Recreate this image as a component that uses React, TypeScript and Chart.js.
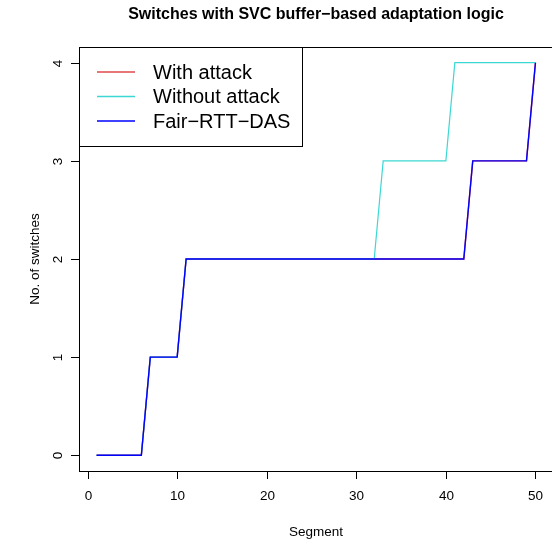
import React, { useEffect, useRef } from "react";
import { Chart, registerables } from "chart.js";

Chart.register(...registerables);

const segments = [
  1, 2, 3, 4, 5, 6, 7, 8, 9, 10, 11, 12, 13, 14, 15, 16, 17, 18, 19, 20, 21, 22, 23, 24, 25,
  26, 27, 28, 29, 30, 31, 32, 33, 34, 35, 36, 37, 38, 39, 40, 41, 42, 43, 44, 45, 46, 47, 48, 49, 50,
];
const withAttack = [
  0, 0, 0, 0, 0, 0, 1, 1, 1, 1, 2, 2, 2, 2, 2, 2, 2, 2, 2, 2, 2, 2, 2, 2, 2,
  2, 2, 2, 2, 2, 2, 2, 2, 2, 2, 2, 2, 2, 2, 2, 2, 2, 3, 3, 3, 3, 3, 3, 3, 4,
];
const withoutAttack = [
  0, 0, 0, 0, 0, 0, 1, 1, 1, 1, 2, 2, 2, 2, 2, 2, 2, 2, 2, 2, 2, 2, 2, 2, 2,
  2, 2, 2, 2, 2, 2, 2, 3, 3, 3, 3, 3, 3, 3, 3, 4, 4, 4, 4, 4, 4, 4, 4, 4, 4,
];
const fairRttDas = [
  0, 0, 0, 0, 0, 0, 1, 1, 1, 1, 2, 2, 2, 2, 2, 2, 2, 2, 2, 2, 2, 2, 2, 2, 2,
  2, 2, 2, 2, 2, 2, 2, 2, 2, 2, 2, 2, 2, 2, 2, 2, 2, 3, 3, 3, 3, 3, 3, 3, 4,
];
const seriesLabels = ["With attack", "Without attack", "Fair\u2212RTT\u2212DAS"];
const seriesColors = ["#E04848", "#3CD8D4", "#0000FF"];
const xTicks = [0, 10, 20, 30, 40, 50];
const yTicks = [0, 1, 2, 3, 4];
const titleText = "Switches with SVC buffer\u2212based adaptation logic";
const xTitle = "Segment";
const yTitle = "No. of switches";

const FONT = '"Liberation Sans", Arial, Helvetica, sans-serif';

const rPlot = {
  id: "rPlot",
  afterDraw(chart: any) {
    const ctx = chart.ctx as CanvasRenderingContext2D;
    const a = chart.chartArea;
    const xs = chart.scales.x;
    const ys = chart.scales.y;
    ctx.save();
    ctx.strokeStyle = "#000";
    ctx.fillStyle = "#000";
    ctx.lineWidth = 1;
    // box
    ctx.strokeRect(a.left + 0.5, a.top + 0.5, a.right - a.left, a.bottom - a.top);
    // x ticks
    ctx.font = "13.5px " + FONT;
    ctx.textAlign = "center";
    ctx.textBaseline = "alphabetic";
    for (const t of xTicks) {
      const px = Math.round(xs.getPixelForValue(t)) + 0.5;
      ctx.beginPath();
      ctx.moveTo(px, a.bottom);
      ctx.lineTo(px, a.bottom + 8);
      ctx.stroke();
      ctx.fillText(String(t), px, 500);
    }
    // y ticks
    for (const t of yTicks) {
      const py = Math.round(ys.getPixelForValue(t)) + 0.5;
      ctx.beginPath();
      ctx.moveTo(a.left, py);
      ctx.lineTo(a.left - 8, py);
      ctx.stroke();
      ctx.save();
      ctx.translate(62, py);
      ctx.rotate(-Math.PI / 2);
      ctx.textAlign = "center";
      ctx.textBaseline = "alphabetic";
      ctx.fillText(String(t), 0, 0);
      ctx.restore();
    }
    // axis titles
    ctx.textAlign = "center";
    ctx.fillText(xTitle, (a.left + a.right) / 2, 536);
    ctx.save();
    ctx.translate(39, (a.top + a.bottom) / 2);
    ctx.rotate(-Math.PI / 2);
    ctx.fillText(yTitle, 0, 0);
    ctx.restore();
    // main title
    ctx.font = "bold 16px " + FONT;
    ctx.fillText(titleText, (a.left + a.right) / 2, 18.5);
    // legend
    const lx = a.left;
    const ly = a.top;
    const lw = 223;
    const lh = 99;
    ctx.fillStyle = "#fff";
    ctx.fillRect(lx, ly, lw, lh);
    ctx.strokeStyle = "#000";
    ctx.strokeRect(lx + 0.5, ly + 0.5, lw, lh);
    ctx.font = "20px " + FONT;
    ctx.textAlign = "left";
    ctx.textBaseline = "middle";
    const rows = [72, 96.5, 121];
    chart.data.datasets.forEach((ds: any, i: number) => {
      ctx.strokeStyle = ds.borderColor;
      ctx.lineWidth = 1.3;
      ctx.beginPath();
      ctx.moveTo(97, rows[i]);
      ctx.lineTo(135, rows[i]);
      ctx.stroke();
      ctx.fillStyle = "#000";
      ctx.fillText(ds.label, 153, rows[i] + 1);
    });
    ctx.restore();
  },
};

export default function App() {
  const ref = useRef<HTMLCanvasElement | null>(null);
  useEffect(() => {
    if (!ref.current) return;
    const mk = (vals: number[]) => segments.map((s, i) => ({ x: s, y: vals[i] }));
    const chart = new Chart(ref.current, {
      type: "line",
      data: {
        datasets: [
          { label: seriesLabels[0], data: mk(withAttack), borderColor: seriesColors[0], borderWidth: 1.4, pointRadius: 0, order: 2, tension: 0 },
          { label: seriesLabels[1], data: mk(withoutAttack), borderColor: seriesColors[1], borderWidth: 1.2, pointRadius: 0, order: 1, tension: 0 },
          { label: seriesLabels[2], data: mk(fairRttDas), borderColor: seriesColors[2], borderWidth: 1.4, pointRadius: 0, order: 0, tension: 0 },
        ],
      },
      options: {
        responsive: false,
        animation: false,
        devicePixelRatio: 1,
        layout: { padding: { left: 79, top: 47, right: 7, bottom: 68 } },
        plugins: { legend: { display: false }, tooltip: { enabled: false }, title: { display: false } },
        scales: {
          x: { type: "linear", min: -0.96, max: 51.96, display: false },
          y: { type: "linear", min: -0.16, max: 4.16, display: false },
        },
      },
      plugins: [rPlot],
    });
    return () => chart.destroy();
  }, []);
  return (
    <div style={{ position: "fixed", left: 0, top: 0, width: 552, height: 539, overflow: "hidden", background: "#fff" }}>
      <canvas ref={ref} width={560} height={539} style={{ display: "block", width: 560, height: 539 }} />
    </div>
  );
}
